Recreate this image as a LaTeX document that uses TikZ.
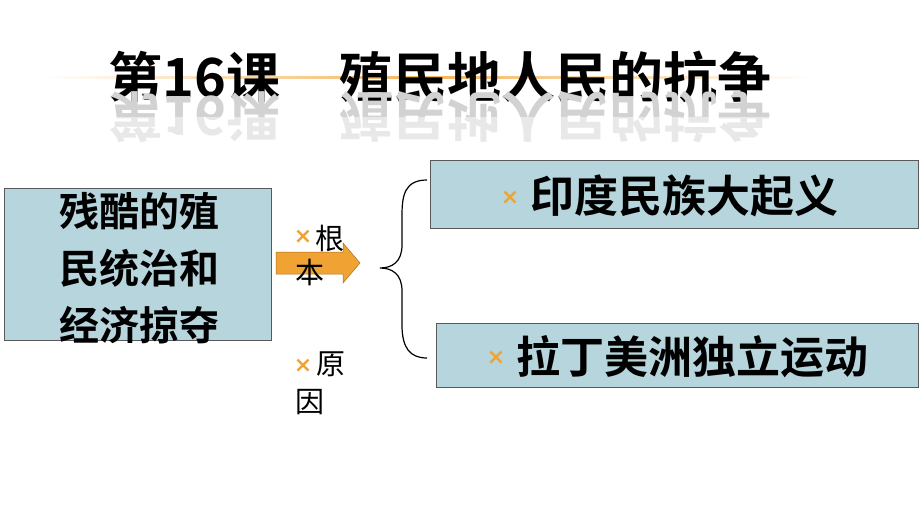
\documentclass[tikz,border=0pt]{standalone}
\usepackage{fontspec}
\newfontfamily\cjk{Noto Sans CJK SC Bold}
\newfontfamily\cjkr{Noto Sans CJK SC}
\newfontfamily\djv{DejaVu Sans}
\definecolor{boxblue}{HTML}{B7D5DD}
\definecolor{orng}{HTML}{F0A232}
\begin{document}
\begin{tikzpicture}[x=1pt,y=-1pt,
  box/.style={draw=gray!70!black,fill=boxblue,line width=0.8pt},
  bul/.style={text=orng,font=\djv\bfseries\fontsize{22}{22}\selectfont,inner sep=0pt},
  lab/.style={font=\cjkr\fontsize{29}{29}\selectfont,inner sep=0pt},
  big/.style={font=\cjk\fontsize{40}{40}\selectfont,inner sep=0pt},
  big2/.style={font=\cjk\fontsize{44}{44}\selectfont,inner sep=0pt},
  ttl/.style={font=\cjk\fontsize{54}{54}\selectfont,inner sep=0pt}]
\useasboundingbox (0,0) rectangle (920,511);
% title line
\shade[left color=white,right color=white,middle color=orng!80] (45,76.5) rectangle (810,78.5);
\node (title) at (440,77) [ttl] {第16课\hspace{1.1em}殖民地人民的抗争};
\node (refl) at (440,117) [ttl,text=gray!35] {\scalebox{1}[-1]{第16课\hspace{1.1em}殖民地人民的抗争}};
\fill[white,opacity=0.5] (100,117) rectangle (800,150);
% boxes
\node (L) [box,minimum width=267pt,minimum height=152pt] at (137.5,264) {};
\node (T) [box,minimum width=488pt,minimum height=68pt] at (674,194) {};
\node (B) [box,minimum width=482pt,minimum height=64pt] at (677,355) {};
\node (Lt) at (139,268) [big,align=center] {残酷的殖\\[17pt]民统治和\\[17pt]经济掠夺};
\node (Tx) at (510,198) [bul] {×};
\node (Tt) at (684,196) [big2] {印度民族大起义};
\node (Bx) at (496,358) [bul] {×};
\node (Bt) at (692,357) [big2] {拉丁美洲独立运动};
% arrow
\draw[fill=orng,draw=orng!70!black,line width=0.5pt] (276,252) -- (343,252) -- (343,243) -- (360,263) -- (343,283) -- (343,274) -- (276,274) -- cycle;
\node (x1) at (303,237) [bul] {×};
\node (g1) at (330,238) [lab] {根};
\node (g2) at (310,272) [lab] {本};
\node (x2) at (303,366) [bul] {×};
\node (y1) at (331,364) [lab] {原};
\node (y2) at (310,402) [lab] {因};
% brace
\draw[line width=1.2pt] (427,180) .. controls (405,180) and (402,195) .. (402,215) -- (402,245) .. controls (402,262) and (392,268) .. (380,268) .. controls (392,268) and (402,274) .. (402,291) -- (402,325) .. controls (402,348) and (410,358) .. (427,358);
\end{tikzpicture}
\end{document}
